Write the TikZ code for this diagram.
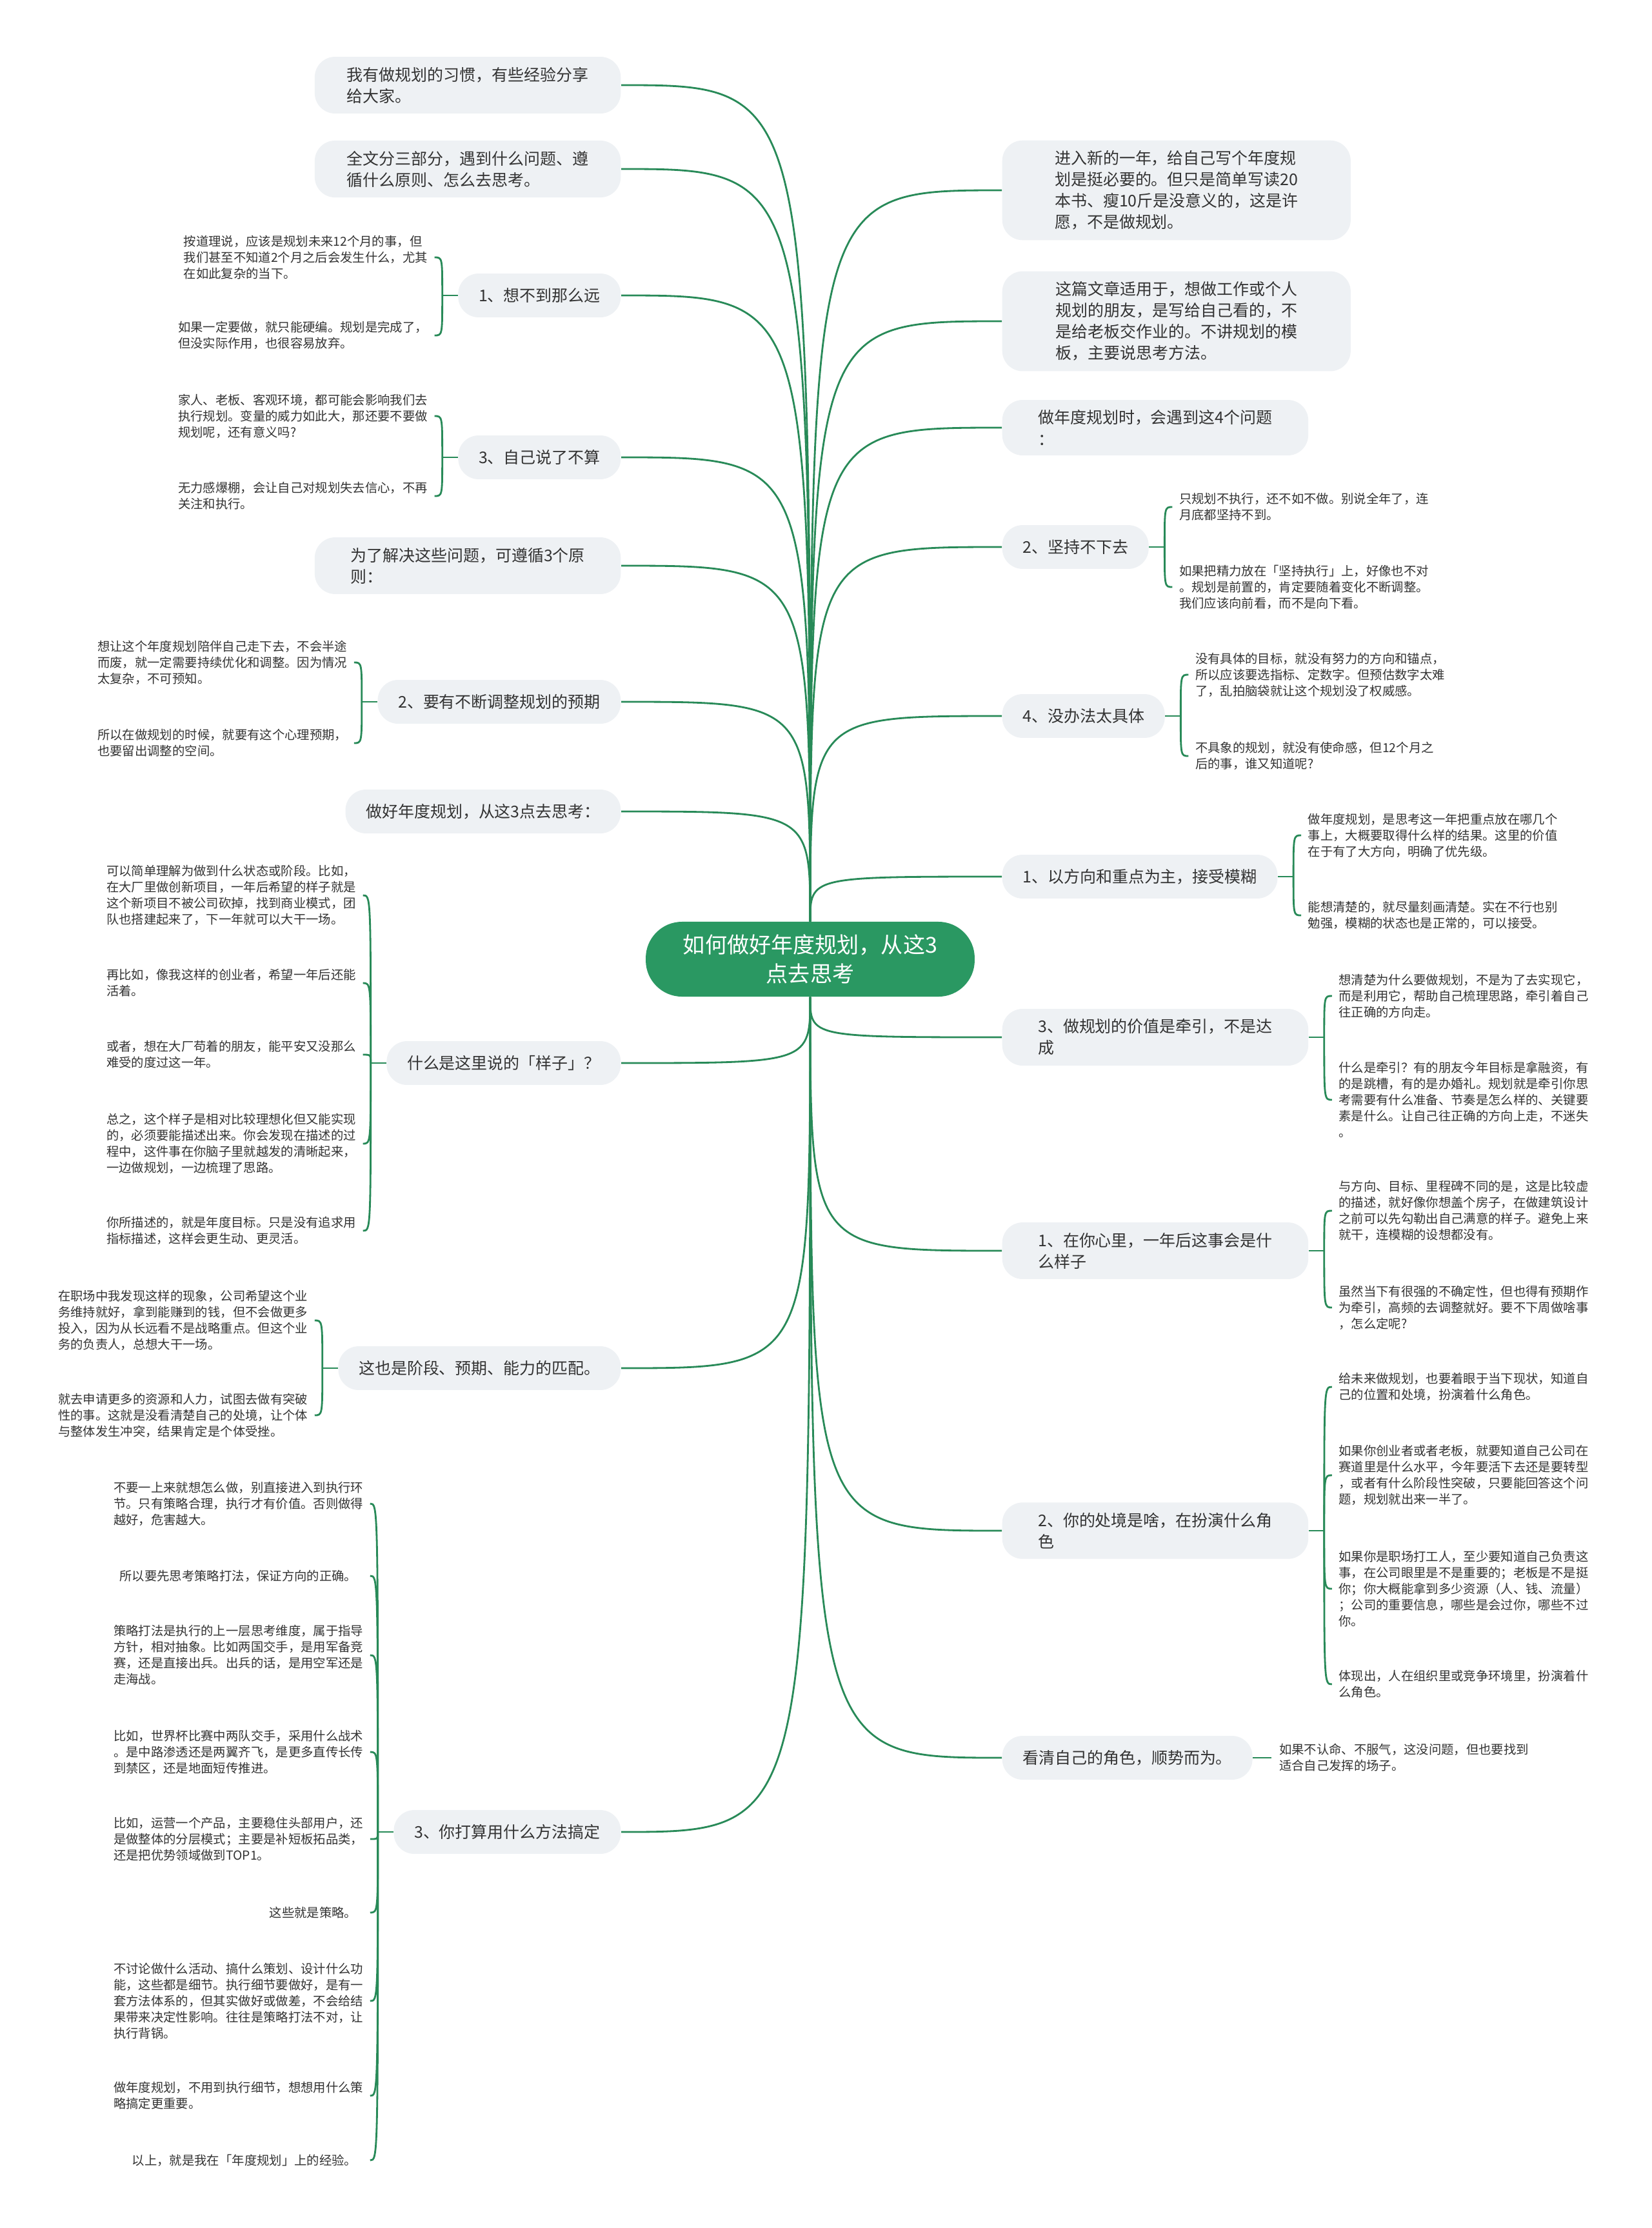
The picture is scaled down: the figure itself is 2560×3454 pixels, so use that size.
\documentclass[tikz,border=0pt]{standalone}
\usepackage{fontspec}
\setmainfont{Noto Sans CJK SC}
\usetikzlibrary{calc}
\definecolor{lineg}{RGB}{40,138,88}
\definecolor{rootg}{RGB}{42,152,98}
\definecolor{boxg}{RGB}{238,241,244}
\definecolor{txt}{RGB}{51,51,51}
\begin{document}
\begin{tikzpicture}[x=0.01cm,y=-0.01cm,
 conn/.style={draw=lineg, line width=0.8pt},
 root/.style={fill=rootg, text=white, rounded corners=16pt, minimum width=145pt, minimum height=33pt, align=center, font=\fontsize{9.7pt}{13pt}\selectfont, inner sep=0pt},
 topic/.style={fill=boxg, text=txt, rounded corners=9pt, inner xsep=9pt, inner ysep=4.5pt, minimum height=19.3pt, align=left, font=\fontsize{7.1pt}{9.4pt}\selectfont},
 wide/.style={minimum width=134.9pt},
 wider/.style={minimum width=153.6pt},
 leaf/.style={text=txt, inner sep=0pt, align=left, font=\fontsize{5.5pt}{7.1pt}\selectfont},
]
\useasboundingbox (0,0) rectangle (2560,3454);
\fill[white] (0,0) rectangle (2560,3454);

% root
\node[root] (root) at (1256,1487) {如何做好年度规划，从这3\\点去思考};

% left topics
\node[topic,wide,anchor=east] (L1) at (963,132) {我有做规划的习惯，有些经验分享\\给大家。};
\node[topic,wide,anchor=east] (L2) at (963,262) {全文分三部分，遇到什么问题、遵\\循什么原则、怎么去思考。};
\node[topic,anchor=east] (L3) at (963,458) {1、想不到那么远};
\node[topic,anchor=east] (L4) at (963,709) {3、自己说了不算};
\node[topic,wide,anchor=east] (L5) at (963,877) {为了解决这些问题，可遵循3个原\\则：};
\node[topic,anchor=east] (L6) at (963,1088) {2、要有不断调整规划的预期};
\node[topic,anchor=east] (L7) at (963,1258) {做好年度规划，从这3点去思考：};
\node[topic,anchor=east] (L8) at (963,1648) {什么是这里说的「样子」？};
\node[topic,anchor=east] (L9) at (963,2121) {这也是阶段、预期、能力的匹配。};
\node[topic,anchor=east] (L10) at (963,2840) {3、你打算用什么方法搞定};

% right topics
\node[topic,wider,anchor=west] (R1) at (1553,295) {进入新的一年，给自己写个年度规\\划是挺必要的。但只是简单写读20\\本书、瘦10斤是没意义的，这是许\\愿，不是做规划。};
\node[topic,wider,anchor=west] (R2) at (1553,498) {这篇文章适用于，想做工作或个人\\规划的朋友，是写给自己看的，不\\是给老板交作业的。不讲规划的模\\板，主要说思考方法。};
\node[topic,wide,anchor=west] (R3) at (1553,663) {做年度规划时，会遇到这4个问题\\：};
\node[topic,anchor=west] (R4) at (1553,848) {2、坚持不下去};
\node[topic,anchor=west] (R5) at (1553,1110) {4、没办法太具体};
\node[topic,anchor=west] (R6) at (1553,1359) {1、以方向和重点为主，接受模糊};
\node[topic,wide,anchor=west] (R7) at (1553,1608) {3、做规划的价值是牵引，不是达\\成};
\node[topic,wide,anchor=west] (R8) at (1553,1939) {1、在你心里，一年后这事会是什\\么样子};
\node[topic,wide,anchor=west] (R9) at (1553,2373) {2、你的处境是啥，在扮演什么角\\色};
\node[topic,anchor=west] (R10) at (1553,2725) {看清自己的角色，顺势而为。};

% root connectors
\foreach \n in {L1,L2,L3,L4,L5,L6,L7}
  \draw[conn] (root.north) .. controls (root.north |- \n.east) .. (\n.east);
\foreach \n in {L8,L9,L10}
  \draw[conn] (root.south) .. controls (root.south |- \n.east) .. (\n.east);
\foreach \n in {R1,R2,R3,R4,R5,R6}
  \draw[conn] (root.north) .. controls (root.north |- \n.west) .. (\n.west);
\foreach \n in {R7,R8,R9,R10}
  \draw[conn] (root.south) .. controls (root.south |- \n.west) .. (\n.west);

% left leaves
\node[leaf,anchor=east] (L3a) at ($(L3.west |- 0,399)+(-46,0)$) {按道理说，应该是规划未来12个月的事，但\\我们甚至不知道2个月之后会发生什么，尤其\\在如此复杂的当下。};
\node[leaf,anchor=east] (L3b) at ($(L3.west |- 0,520)+(-46,0)$) {如果一定要做，就只能硬编。规划是完成了，\\但没实际作用，也很容易放弃。};

\node[leaf,anchor=east] (L4a) at ($(L4.west |- 0,645)+(-46,0)$) {家人、老板、客观环境，都可能会影响我们去\\执行规划。变量的威力如此大，那还要不要做\\规划呢，还有意义吗?};
\node[leaf,anchor=east] (L4b) at ($(L4.west |- 0,769)+(-46,0)$) {无力感爆棚，会让自己对规划失去信心，不再\\关注和执行。};

\node[leaf,anchor=east] (L6a) at ($(L6.west |- 0,1027)+(-46,0)$) {想让这个年度规划陪伴自己走下去，不会半途\\而废，就一定需要持续优化和调整。因为情况\\太复杂，不可预知。};
\node[leaf,anchor=east] (L6b) at ($(L6.west |- 0,1152)+(-46,0)$) {所以在做规划的时候，就要有这个心理预期，\\也要留出调整的空间。};

\node[leaf,anchor=east] (L8a) at ($(L8.west |- 0,1388)+(-46,0)$) {可以简单理解为做到什么状态或阶段。比如，\\在大厂里做创新项目，一年后希望的样子就是\\这个新项目不被公司砍掉，找到商业模式，团\\队也搭建起来了，下一年就可以大干一场。};
\node[leaf,anchor=east] (L8b) at ($(L8.west |- 0,1524)+(-46,0)$) {再比如，像我这样的创业者，希望一年后还能\\活着。};
\node[leaf,anchor=east] (L8c) at ($(L8.west |- 0,1635)+(-46,0)$) {或者，想在大厂苟着的朋友，能平安又没那么\\难受的度过这一年。};
\node[leaf,anchor=east] (L8d) at ($(L8.west |- 0,1773)+(-46,0)$) {总之，这个样子是相对比较理想化但又能实现\\的，必须要能描述出来。你会发现在描述的过\\程中，这件事在你脑子里就越发的清晰起来，\\一边做规划，一边梳理了思路。};
\node[leaf,anchor=east] (L8e) at ($(L8.west |- 0,1908)+(-46,0)$) {你所描述的，就是年度目标。只是没有追求用\\指标描述，这样会更生动、更灵活。};

\node[leaf,anchor=east] (L9a) at ($(L9.west |- 0,2047)+(-46,0)$) {在职场中我发现这样的现象，公司希望这个业\\务维持就好，拿到能赚到的钱，但不会做更多\\投入，因为从长远看不是战略重点。但这个业\\务的负责人，总想大干一场。};
\node[leaf,anchor=east] (L9b) at ($(L9.west |- 0,2194)+(-46,0)$) {就去申请更多的资源和人力，试图去做有突破\\性的事。这就是没看清楚自己的处境，让个体\\与整体发生冲突，结果肯定是个体受挫。};

\node[leaf,anchor=east] (L10a) at ($(L10.west |- 0,2331)+(-46,0)$) {不要一上来就想怎么做，别直接进入到执行环\\节。只有策略合理，执行才有价值。否则做得\\越好，危害越大。};
\node[leaf,anchor=east] (L10b) at ($(L10.west |- 0,2443)+(-56,0)$) {所以要先思考策略打法，保证方向的正确。};
\node[leaf,anchor=east] (L10c) at ($(L10.west |- 0,2566)+(-46,0)$) {策略打法是执行的上一层思考维度，属于指导\\方针，相对抽象。比如两国交手，是用军备竞\\赛，还是直接出兵。出兵的话，是用空军还是\\走海战。};
\node[leaf,anchor=east] (L10d) at ($(L10.west |- 0,2716)+(-46,0)$) {比如，世界杯比赛中两队交手，采用什么战术\\。是中路渗透还是两翼齐飞，是更多直传长传\\到禁区，还是地面短传推进。};
\node[leaf,anchor=east] (L10e) at ($(L10.west |- 0,2851)+(-46,0)$) {比如，运营一个产品，主要稳住头部用户，还\\是做整体的分层模式；主要是补短板拓品类，\\还是把优势领域做到TOP1。};
\node[leaf,anchor=east] (L10f) at ($(L10.west |- 0,2965)+(-56,0)$) {这些就是策略。};
\node[leaf,anchor=east] (L10g) at ($(L10.west |- 0,3102)+(-46,0)$) {不讨论做什么活动、搞什么策划、设计什么功\\能，这些都是细节。执行细节要做好，是有一\\套方法体系的，但其实做好或做差，不会给结\\果带来决定性影响。往往是策略打法不对，让\\执行背锅。};
\node[leaf,anchor=east] (L10h) at ($(L10.west |- 0,3249)+(-46,0)$) {做年度规划，不用到执行细节，想想用什么策\\略搞定更重要。};
\node[leaf,anchor=east] (L10i) at ($(L10.west |- 0,3349)+(-56,0)$) {以上，就是我在「年度规划」上的经验。};

% right leaves
\node[leaf,anchor=west] (R4a) at ($(R4.east |- 0,786)+(46,0)$) {只规划不执行，还不如不做。别说全年了，连\\月底都坚持不到。};
\node[leaf,anchor=west] (R4b) at ($(R4.east |- 0,910)+(46,0)$) {如果把精力放在「坚持执行」上，好像也不对\\。规划是前置的，肯定要随着变化不断调整。\\我们应该向前看，而不是向下看。};

\node[leaf,anchor=west] (R5a) at ($(R5.east |- 0,1046)+(46,0)$) {没有具体的目标，就没有努力的方向和锚点，\\所以应该要选指标、定数字。但预估数字太难\\了，乱拍脑袋就让这个规划没了权威感。};
\node[leaf,anchor=west] (R5b) at ($(R5.east |- 0,1172)+(46,0)$) {不具象的规划，就没有使命感，但12个月之\\后的事，谁又知道呢?};

\node[leaf,anchor=west] (R6a) at ($(R6.east |- 0,1295)+(46,0)$) {做年度规划，是思考这一年把重点放在哪几个\\事上，大概要取得什么样的结果。这里的价值\\在于有了大方向，明确了优先级。};
\node[leaf,anchor=west] (R6b) at ($(R6.east |- 0,1419)+(46,0)$) {能想清楚的，就尽量刻画清楚。实在不行也别\\勉强，模糊的状态也是正常的，可以接受。};

\node[leaf,anchor=west] (R7a) at ($(R7.east |- 0,1544)+(46,0)$) {想清楚为什么要做规划，不是为了去实现它，\\而是利用它，帮助自己梳理思路，牵引着自己\\往正确的方向走。};
\node[leaf,anchor=west] (R7b) at ($(R7.east |- 0,1705)+(46,0)$) {什么是牵引？有的朋友今年目标是拿融资，有\\的是跳槽，有的是办婚礼。规划就是牵引你思\\考需要有什么准备、节奏是怎么样的、关键要\\素是什么。让自己往正确的方向上走，不迷失\\。};

\node[leaf,anchor=west] (R8a) at ($(R8.east |- 0,1877)+(46,0)$) {与方向、目标、里程碑不同的是，这是比较虚\\的描述，就好像你想盖个房子，在做建筑设计\\之前可以先勾勒出自己满意的样子。避免上来\\就干，连模糊的设想都没有。};
\node[leaf,anchor=west] (R8b) at ($(R8.east |- 0,2027)+(46,0)$) {虽然当下有很强的不确定性，但也得有预期作\\为牵引，高频的去调整就好。要不下周做啥事\\，怎么定呢?};

\node[leaf,anchor=west] (R9a) at ($(R9.east |- 0,2150)+(46,0)$) {给未来做规划，也要着眼于当下现状，知道自\\己的位置和处境，扮演着什么角色。};
\node[leaf,anchor=west] (R9b) at ($(R9.east |- 0,2287)+(46,0)$) {如果你创业者或者老板，就要知道自己公司在\\赛道里是什么水平，今年要活下去还是要转型\\，或者有什么阶段性突破，只要能回答这个问\\题，规划就出来一半了。};
\node[leaf,anchor=west] (R9c) at ($(R9.east |- 0,2463)+(46,0)$) {如果你是职场打工人，至少要知道自己负责这\\事，在公司眼里是不是重要的；老板是不是挺\\你；你大概能拿到多少资源（人、钱、流量）\\；公司的重要信息，哪些是会过你，哪些不过\\你。};
\node[leaf,anchor=west] (R9d) at ($(R9.east |- 0,2611)+(46,0)$) {体现出，人在组织里或竞争环境里，扮演着什\\么角色。};

\node[leaf,anchor=west] (R10a) at ($(R10.east |- 0,2725)+(40,0)$) {如果不认命、不服气，这没问题，但也要找到\\适合自己发挥的场子。};

% braces (left)
\foreach \n/\kids in {L3/{L3a,L3b},L4/{L4a,L4b},L6/{L6a,L6b},L8/{L8a,L8b,L8c,L8d,L8e},L9/{L9a,L9b},L10/{L10a,L10b,L10c,L10d,L10e,L10f,L10g,L10h,L10i}}{
  \draw[conn] (\n.west) -- ++(-24,0) coordinate (\n j);
  \foreach \k in \kids
    \draw[conn] (\n j) .. controls (\n j |- \k.east) .. ($(\n j |- \k.east)+(-12,0)$);
}
% braces (right)
\foreach \n/\kids in {R4/{R4a,R4b},R5/{R5a,R5b},R6/{R6a,R6b},R7/{R7a,R7b},R8/{R8a,R8b},R9/{R9a,R9b,R9c,R9d}}{
  \draw[conn] (\n.east) -- ++(24,0) coordinate (\n j);
  \foreach \k in \kids
    \draw[conn] (\n j) .. controls (\n j |- \k.west) .. ($(\n j |- \k.west)+(12,0)$);
}
\draw[conn, shorten >=11*0.01cm] (R10.east) -- (R10a.west);
\end{tikzpicture}
\end{document}
